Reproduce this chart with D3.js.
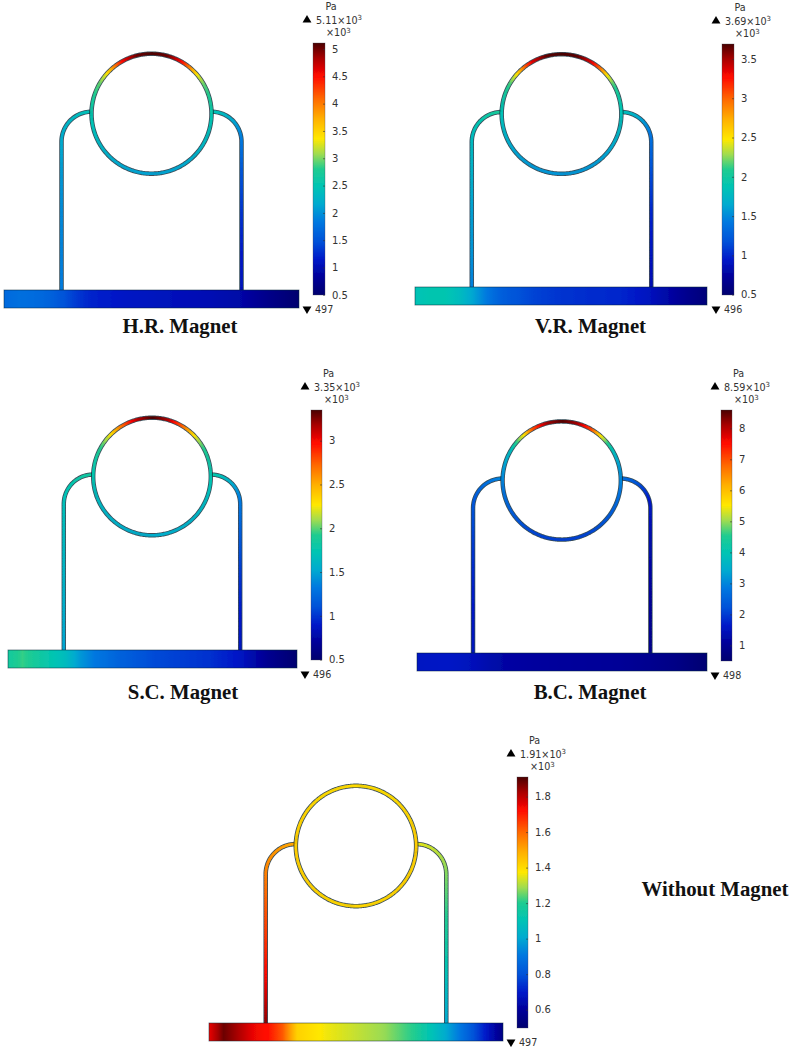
<!DOCTYPE html>
<html><head><meta charset="utf-8">
<script src="https://cdn.jsdelivr.net/npm/d3@7/dist/d3.min.js"></script>
<style>
html,body{margin:0;padding:0;background:#fff}
svg{display:block}
.legend text{font-family:"DejaVu Sans",sans-serif;font-size:9.6px;fill:#333}
.legend .tick text{font-size:10px}
.title{font-family:"Liberation Serif",serif;font-weight:bold;font-size:20.8px;fill:#111}
</style></head><body>
<script>
// ---------- data ----------
const panelNames = ["H.R. Magnet","V.R. Magnet","S.C. Magnet","B.C. Magnet","Without Magnet"];
const maxValues = [5110,3690,3350,8590,1910];        // Pa
const maxLabels = ["5.11","3.69","3.35","8.59","1.91"];
const minValues = [497,496,496,498,497];             // Pa
const ticksHR = [0.5,1,1.5,2,2.5,3,3.5,4,4.5,5];
const ticksVR = [0.5,1,1.5,2,2.5,3,3.5];
const ticksSC = [0.5,1,1.5,2,2.5,3];
const ticksBC = [1,2,3,4,5,6,7,8];
const ticksWO = [0.6,0.8,1,1.2,1.4,1.6,1.8];

// pressure (x10^3 Pa) round the ring, by degrees away from the top
const ringAngles = [0,15,30,40,50,60,75,90,110,130,150,180];
const ringHR = [5.10,5.00,4.50,3.90,3.30,2.95,2.75,2.55,2.38,2.25,2.15,2.10];
const ringVR = [3.69,3.65,3.35,2.95,2.45,2.15,1.95,1.85,1.72,1.62,1.57,1.55];
const ringSC = [3.35,3.15,2.75,2.45,2.15,1.95,1.80,1.75,1.65,1.60,1.57,1.55];
const ringBC = [8.55,8.10,7.00,5.60,4.60,3.80,3.30,3.00,2.60,2.30,2.10,2.00];
const ringWO = [1.40,1.40,1.40,1.40,1.41,1.41,1.42,1.43,1.42,1.42,1.41,1.41];

// pressure along the two legs, from the ring junction down to the bar
const legStops = [0,0.2,0.4,0.6,0.8,1];
const legLeftHR  = [2.45,2.20,2.05,1.95,1.90,1.85];
const legRightHR = [2.50,1.90,1.50,1.30,1.15,1.05];
const legLeftVR  = [2.05,1.80,1.70,1.60,1.55,1.45];
const legRightVR = [1.85,1.40,1.15,1.00,0.90,0.85];
const legLeftSC  = [1.85,1.70,1.65,1.60,1.55,1.50];
const legRightSC = [1.80,1.35,1.15,1.00,0.90,0.85];
const legLeftBC  = [3.00,2.30,2.00,1.75,1.60,1.50];
const legRightBC = [2.70,1.60,1.30,1.15,1.00,0.90];
const legLeftWO  = [1.50,1.55,1.62,1.68,1.75,1.85];
const legRightWO = [1.35,1.28,1.22,1.15,1.07,1.00];

// pressure along the bottom bar, from left to right
const barStops = [0,0.05,0.1,0.15,0.2,0.25,0.3,0.4,0.5,0.6,0.7,0.8,0.9,1];
const barHR = [1.70,1.75,1.72,1.65,1.50,1.32,1.20,1.12,1.08,1.04,1.00,0.92,0.70,0.50];
const barVR = [1.85,1.90,1.90,1.80,1.62,1.40,1.25,1.12,1.05,1.02,1.00,0.90,0.72,0.55];
const barSC = [1.84,1.95,1.85,1.75,1.65,1.45,1.32,1.18,1.08,1.03,0.98,0.88,0.66,0.50];
const barBC = [1.55,1.58,1.60,1.55,1.45,1.30,1.20,1.14,1.10,1.08,1.05,0.95,0.80,0.55];
const barWO = [1.75,1.88,1.82,1.75,1.72,1.62,1.42,1.36,1.32,1.28,1.20,1.02,0.80,0.55];

// rainbow colour table: fraction of the range -> colour
const rainbowStops = [0,0.07,0.14,0.21,0.29,0.36,0.43,0.5,0.56,0.62,0.7,0.78,0.87,0.94,1];
const rainbowColors = ["#00006e","#000098","#0018c8","#0050d8","#0078e0","#00aad0","#00c4b4","#20cc90","#a0dc50","#ffe800","#ffb000","#ff6800","#ff0800","#a80000","#4a0000"];

// ---------- layout ----------
const frames = [
 {cx:151.5,cy:113.7,k:1.000,bar:[4,299,290,308],cb:[313,325,43,295],tx:180,ty:333,ticks:ticksHR,ring:ringHR,legL:legLeftHR,legR:legRightHR,barV:barHR},
 {cx:561.5,cy:114.0,k:0.997,bar:[415,707,287,305],cb:[722,734,44,295],tx:590.5,ty:333,ticks:ticksVR,ring:ringVR,legL:legLeftVR,legR:legRightVR,barV:barVR},
 {cx:152.0,cy:476.5,k:0.980,bar:[8,297,650,668],cb:[311,322,410,660],tx:183,ty:699,ticks:ticksSC,ring:ringSC,legL:legLeftSC,legR:legRightSC,barV:barSC},
 {cx:561.7,cy:480.5,k:0.985,bar:[417,707,653,671],cb:[721,732,410,661],tx:590,ty:699,ticks:ticksBC,ring:ringBC,legL:legLeftBC,legR:legRightBC,barV:barBC},
 {cx:356.0,cy:846.0,k:1.003,bar:[209,503,1023,1041],cb:[517,528,777,1028],tx:715,ty:896,ticks:ticksWO,ring:ringWO,legL:legLeftWO,legR:legRightWO,barV:barWO}
];
// shared shape of the channel, in model units
const ringR = 60, legX = 90, bendR = 30, bendY = 28, wall = 2.7, edge = 4.5;

const svg = d3.select("body").append("svg").attr("width",789).attr("height",1047);
const defs = svg.append("defs");
defs.append("filter").attr("id","soft").attr("x","-5%").attr("y","-5%").attr("width","110%").attr("height","110%")
  .append("feGaussianBlur").attr("stdDeviation",0.35);

const fracColor = d3.scaleLinear().domain(rainbowStops).range(rainbowColors).interpolate(d3.interpolateRgb).clamp(true);

frames.forEach((f,i)=>{
  const vMin = minValues[i]/1000, vMax = maxValues[i]/1000;
  const toFrac = d3.scaleLinear().domain([vMin,vMax]).range([0,1]).clamp(true);
  const color = v => fracColor(toFrac(v));
  const px = d3.scaleLinear().domain([-1,1]).range([f.cx-f.k,f.cx+f.k]);
  const py = d3.scaleLinear().domain([-1,1]).range([f.cy-f.k,f.cy+f.k]);
  const line = d3.line().x(d=>px(d[0])).y(d=>py(d[1]));
  const g = svg.append("g").attr("filter","url(#soft)");

  // leg centre line: bend then straight run down to the bar
  const legBottom = py.invert(f.bar[2]+0.5);
  const legPoint = (side,s)=>{
    const arcLen = Math.PI/2*bendR, straight = legBottom-bendY, total = arcLen+straight, d = s*total;
    if(d<arcLen){const a=d/bendR; return [side*(legX-bendR+bendR*Math.sin(a)), bendY-bendR*Math.cos(a)];}
    return [side*legX, bendY+(d-arcLen)];
  };
  const sampleS = d3.range(0,1.0001,1/120);
  const legs = [{side:-1,vals:f.legL},{side:1,vals:f.legR}];
  legs.forEach(l=>{
    g.append("path").attr("d",line(sampleS.map(s=>legPoint(l.side,s))))
      .attr("fill","none").attr("stroke","#0b2030").attr("stroke-opacity",0.8).attr("stroke-width",edge*f.k);
  });
  legs.forEach(l=>{
    const val = d3.scaleLinear().domain(legStops).range(l.vals);
    g.append("g").selectAll("path").data(sampleS.slice(0,-1)).join("path")
      .attr("d",s=>line([legPoint(l.side,s),legPoint(l.side,Math.min(1,s+1.4/120))]))
      .attr("fill","none").attr("stroke",s=>color(val(s))).attr("stroke-width",wall*f.k);
  });

  // ring
  const ringVal = d3.scaleLinear().domain(ringAngles).range(f.ring);
  const ringPt = deg=>{const a=deg*Math.PI/180; return [ringR*Math.sin(a),-ringR*Math.cos(a)];};
  const degs = d3.range(0,360,1);
  g.append("path").attr("d",line(degs.concat([0]).map(ringPt)))
    .attr("fill","none").attr("stroke","#0b2030").attr("stroke-opacity",0.8).attr("stroke-width",edge*f.k);
  g.append("g").selectAll("path").data(degs).join("path")
    .attr("d",d=>line([ringPt(d),ringPt(d+1.4)]))
    .attr("fill","none").attr("stroke",d=>color(ringVal(d<=180?d:360-d))).attr("stroke-width",wall*f.k);

  // bottom bar
  const barVal = d3.scaleLinear().domain(barStops).range(f.barV);
  const gradId = "bar"+i;
  defs.append("linearGradient").attr("id",gradId).selectAll("stop").data(d3.range(0,1.0001,0.01)).join("stop")
    .attr("offset",d=>d).attr("stop-color",d=>color(barVal(d)));
  g.append("rect").attr("x",f.bar[0]).attr("y",f.bar[2]).attr("width",f.bar[1]-f.bar[0]).attr("height",f.bar[3]-f.bar[2])
    .attr("fill",`url(#${gradId})`).attr("stroke","#0b2030").attr("stroke-opacity",0.6).attr("stroke-width",0.8);

  // colour legend
  const cbId = "cb"+i;
  defs.append("linearGradient").attr("id",cbId).attr("x1",0).attr("x2",0).attr("y1",1).attr("y2",0)
    .selectAll("stop").data(rainbowStops).join("stop")
    .attr("offset",d=>d).attr("stop-color",(d,j)=>rainbowColors[j]);
  const leg = svg.append("g").attr("class","legend");
  const cbMid = (f.cb[0]+f.cb[1])/2;
  leg.append("rect").attr("x",f.cb[0]).attr("y",f.cb[2]).attr("width",f.cb[1]-f.cb[0]).attr("height",f.cb[3]-f.cb[2])
    .attr("fill",`url(#${cbId})`).attr("stroke","#3a3a55").attr("stroke-opacity",0.45).attr("stroke-width",0.7).attr("filter","url(#soft)");
  const yScale = d3.scaleLinear().domain([vMin,vMax]).range([f.cb[3],f.cb[2]]);
  const axis = d3.axisRight(yScale).tickValues(f.ticks).tickFormat(d=>String(d)).tickSizeInner(-2).tickSizeOuter(0).tickPadding(7);
  const ag = leg.append("g").attr("transform",`translate(${f.cb[1]},0)`).call(axis);
  ag.select(".domain").remove();
  ag.selectAll(".tick line").attr("stroke","#333").attr("stroke-width",0.6);
  ag.selectAll(".tick text").attr("fill","#333").attr("font-size",null).attr("font-family",null);

  leg.append("text").attr("x",cbMid+12).attr("y",f.cb[2]-33.5).attr("text-anchor","middle").text("Pa");
  leg.append("path").attr("transform",`translate(${f.cb[0]-6},${f.cb[2]-23})`)
    .attr("d",d3.symbol(d3.symbolTriangle,34)()).attr("fill","#000");
  const top = leg.append("text").attr("x",f.cb[0]+3).attr("y",f.cb[2]-19.5);
  top.append("tspan").text(maxLabels[i]+"×10");
  top.append("tspan").attr("dy",-3.5).style("font-size","7px").text("3");
  const un = leg.append("text").attr("x",f.cb[0]+13).attr("y",f.cb[2]-7);
  un.append("tspan").text("×10");
  un.append("tspan").attr("dy",-3.5).style("font-size","7px").text("3");
  leg.append("path").attr("transform",`translate(${f.cb[0]-6},${f.cb[3]+14}) rotate(180)`)
    .attr("d",d3.symbol(d3.symbolTriangle,34)()).attr("fill","#000");
  leg.append("text").attr("x",f.cb[0]+2).attr("y",f.cb[3]+17.5).text(minValues[i]);

  // caption
  svg.append("text").attr("class","title").attr("x",f.tx).attr("y",f.ty).attr("text-anchor","middle").text(panelNames[i]);
});
</script></body></html>
